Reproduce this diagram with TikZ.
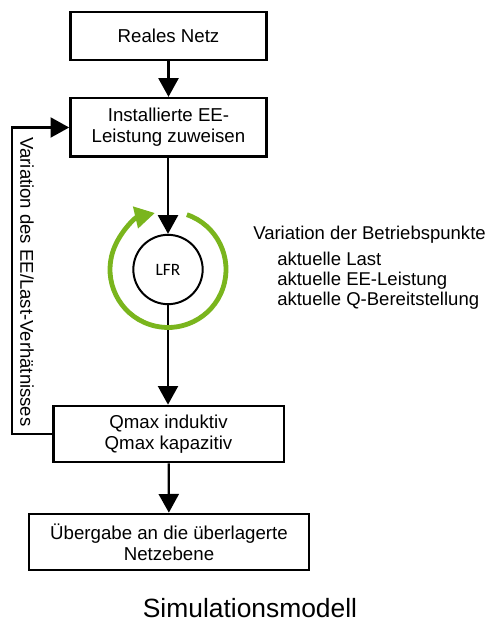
\documentclass[tikz,border=0pt]{standalone}
\usepackage{fontspec}
\setmainfont{Liberation Sans}
\newfontfamily\lfrfont{Carlito}
\usetikzlibrary{arrows.meta}
\definecolor{loopgreen}{HTML}{7AB51D}

\begin{document}
\begin{tikzpicture}[x=0.75pt, y=0.75pt,
    every node/.append style={align=center},
    stepbox/.style={draw, line width=2pt, inner sep=0pt, font=\fontsize{14}{16}\selectfont},
    conn/.style={line width=1.7pt, -{Triangle[length=14pt,width=15pt]}},
    sidetext/.style={inner sep=0pt, font=\fontsize{13.9}{15}\selectfont}]
    \useasboundingbox (0,0) rectangle (489,-623);
    % flow boxes
    \node[stepbox, minimum width=147pt, minimum height=36pt] (netz)  at (168.5,-36)   {Reales Netz};
    \node[stepbox, minimum width=147pt, minimum height=44pt] (ee)    at (168.5,-127.5) {Installierte EE-\\Leistung zuweisen};
    \node[draw, circle, line width=1.5pt, minimum size=52pt, inner sep=0pt,
          font=\lfrfont\fontsize{13}{14}\selectfont] (lfr) at (168,-269.5) {LFR};
    \node[stepbox, minimum width=173pt, minimum height=42pt] (qmax)  at (168.5,-434)   {Qmax induktiv\\Qmax kapazitiv};
    \node[stepbox, minimum width=210pt, minimum height=42pt] (ueber) at (169,-542)     {Übergabe an die überlagerte\\Netzebene};
    \draw[conn] (netz) -- (ee);
    \draw[conn] (ee.south -| lfr.north) -- (lfr);
    \draw[conn] (lfr) -- (qmax.north -| lfr.south);
    \draw[conn] (qmax) -- (ueber);
    % feedback loop
    \draw[conn] (qmax.west) -- ++(-40,0) |- (ee.west);
    \node[sidetext, rotate=-90] (vari) at (27,-282) {Variation des EE/Last-Verhätnisses};
    % operating points
    \draw[loopgreen, line width=3.6pt, -{Triangle[length=15pt,width=16pt]}]
      ([shift={(71:58)}]lfr.center) arc (71:-257:58);
    \node[sidetext, anchor=base west] (betr)  at (253,-239) {Variation der Betriebspunkte};
    \node[sidetext, anchor=base west] (last)  at (277,-265) {aktuelle Last};
    \node[sidetext, anchor=base west] (eel)   at (277,-285) {aktuelle EE-Leistung};
    \node[sidetext, anchor=base west] (qber)  at (277,-305) {aktuelle Q-Bereitstellung};
    \node[font=\fontsize{19.8}{22}\selectfont] (simu) at (250,-608) {Simulationsmodell};
\end{tikzpicture}
\end{document}
